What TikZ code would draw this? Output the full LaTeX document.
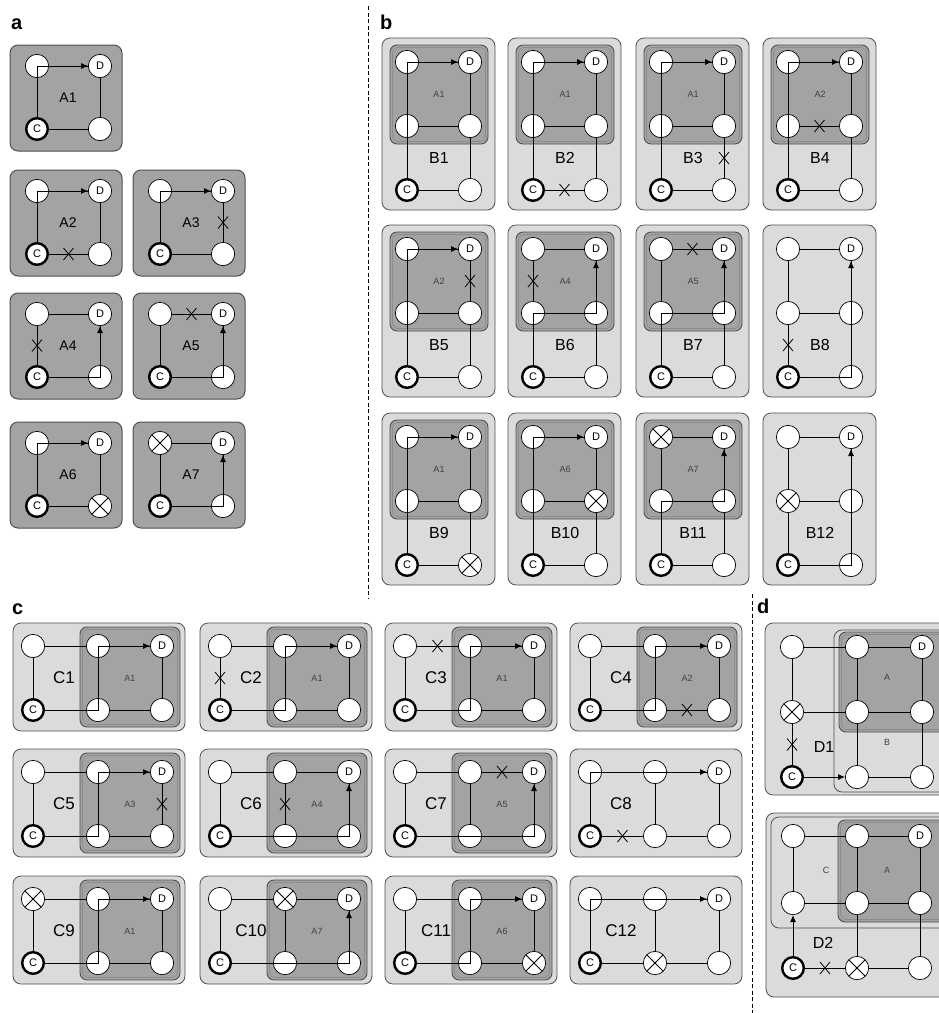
\documentclass[tikz,border=0pt]{standalone}
\usepackage{fontspec}
\setmainfont{Liberation Sans}
\setsansfont{Liberation Sans}
\usetikzlibrary{calc,arrows.meta}
\definecolor{dfill}{RGB}{163,163,163}
\definecolor{lfill}{RGB}{219,219,219}
\definecolor{bord}{RGB}{80,80,80}
\tikzset{
 nd/.style={circle, draw=black, fill=white, line width=0.7pt, minimum size=23.3pt, inner sep=0pt, font=\fontsize{11}{11}\selectfont},
 cnd/.style={nd, line width=2.4pt, minimum size=21.6pt},
 edg/.style={line width=0.8pt},
 pth/.style={line width=0.95pt, -{Latex[length=7pt,width=6pt]}},
 abox/.style={draw=bord, fill=dfill, rounded corners=8pt, line width=1pt},
 obox/.style={draw=bord, fill=lfill, rounded corners=8pt, line width=0.8pt},
 ibox/.style={draw=bord, fill=dfill, rounded corners=7pt, line width=0.9pt},
 iline/.style={draw=black!45, rounded corners=5pt, line width=0.6pt},
 alab/.style={font=\fontsize{14}{14}\selectfont, inner sep=0pt},
 blab/.style={font=\fontsize{16}{16}\selectfont, inner sep=0pt},
 clab/.style={font=\fontsize{17}{17}\selectfont, inner sep=0pt},
 slab/.style={font=\fontsize{9}{9}\selectfont, inner sep=0pt, text=black!75},
 plab/.style={font=\bfseries\fontsize{20}{20}\selectfont, inner sep=0pt, anchor=base west},
 sep/.style={line width=0.8pt, dash pattern=on 4pt off 2.5pt},
 xm/.pic={\draw[line width=0.8pt] (-5,-6) -- (5,6) (-5,6) -- (5,-6);},
 fx/.pic={\draw[line width=0.8pt] (-8.2,-8.2) -- (8.2,8.2) (-8.2,8.2) -- (8.2,-8.2);},
}
% panel a unit: prefix, x0, y0, label
\newcommand\aunit[4]{%
 \begin{scope}[shift={(#2,#3)}]
 \draw[abox] (0,0) rectangle (112,106);
 \node[alab] (#1-lab) at (58,53) {#4};
 \node[nd] (#1-tl) at (27,21) {};
 \node[nd] (#1-d) at (90,21) {D};
 \node[cnd] (#1-c) at (27,84) {C};
 \node[nd] (#1-br) at (90,84) {};
 \draw[edg] (#1-tl) -- (#1-d);
 \draw[edg] (#1-d) -- (#1-br);
 \draw[edg] (#1-c) -- (#1-br);
 \draw[edg] (#1-tl) -- (#1-c);
 \end{scope}}
% panel b unit: prefix, x0, y0, Blabel, Alabel (empty: no inner box)
\newcommand\bunit[5]{%
 \begin{scope}[shift={(#2,#3)}]
 \draw[obox] (0,0) rectangle (113,172);
 \if\relax\detokenize{#5}\relax\else
  \draw[ibox] (8,7) rectangle (106,106);
  \draw[iline] (10.5,9.5) rectangle (103.5,103.5);
  \node[slab] (#1-alab) at (57,56) {#5};
 \fi
 \node[blab] (#1-lab) at (57,120) {#4};
 \node[nd] (#1-tl) at (25,24) {};
 \node[nd] (#1-d) at (88,24) {D};
 \node[nd] (#1-ml) at (25,88) {};
 \node[nd] (#1-mr) at (88,88) {};
 \node[cnd] (#1-c) at (25,152) {C};
 \node[nd] (#1-br) at (88,152) {};
 \draw[edg] (#1-tl) -- (#1-d);
 \draw[edg] (#1-ml) -- (#1-mr);
 \draw[edg] (#1-c) -- (#1-br);
 \draw[edg] (#1-tl) -- (#1-ml);
 \draw[edg] (#1-ml) -- (#1-c);
 \draw[edg] (#1-d) -- (#1-mr);
 \draw[edg] (#1-mr) -- (#1-br);
 \end{scope}}
% panel c unit: prefix, x0, y0, Clabel, Alabel (empty: no inner box)
\newcommand\cunit[5]{%
 \begin{scope}[shift={(#2,#3)}]
 \draw[obox] (0,0) rectangle (172,108);
 \if\relax\detokenize{#5}\relax\else
  \draw[ibox] (67,4) rectangle (167,104);
  \draw[iline] (69.5,6.5) rectangle (164.5,101.5);
  \node[slab] (#1-alab) at (117,55) {#5};
 \fi
 \node[clab] (#1-lab) at (51,55) {#4};
 \node[nd] (#1-l0) at (20,23) {};
 \node[nd] (#1-m0) at (85,23) {};
 \node[nd] (#1-d) at (149,23) {D};
 \node[cnd] (#1-c) at (20,87) {C};
 \node[nd] (#1-m1) at (85,87) {};
 \node[nd] (#1-r1) at (149,87) {};
 \draw[edg] (#1-l0) -- (#1-m0);
 \draw[edg] (#1-m0) -- (#1-d);
 \draw[edg] (#1-c) -- (#1-m1);
 \draw[edg] (#1-m1) -- (#1-r1);
 \draw[edg] (#1-l0) -- (#1-c);
 \draw[edg] (#1-m0) -- (#1-m1);
 \draw[edg] (#1-d) -- (#1-r1);
 \end{scope}}

\begin{document}
\begin{tikzpicture}[x=1pt,y=-1pt]
\useasboundingbox (0,0) rectangle (939,1013);
\clip (0,0) rectangle (939,1013);
\fill[white] (0,0) rectangle (939,1013);

% panel labels
\node[plab] (la) at (11,29) {a};
\node[plab] (lb) at (380,29) {b};
\node[plab] (lc) at (12,614) {c};
\node[plab] (ld) at (757,613) {d};

% separators
\draw[sep] (368,6) -- (368,598);
\draw[sep] (752,594) -- (752,1013);

% ---------- panel a ----------
\aunit{a1}{10}{45}{A1}
\draw[pth] (a1-c) |- (a1-d);
\aunit{a2}{10}{170}{A2}
\draw[pth] (a2-c) |- (a2-d);
\pic at ($(a2-c)!.5!(a2-br)$) {xm};
\aunit{a3}{133}{170}{A3}
\draw[pth] (a3-c) |- (a3-d);
\pic at ($(a3-d)!.5!(a3-br)$) {xm};
\aunit{a4}{10}{293}{A4}
\draw[pth] (a4-c) -| (a4-d);
\pic at ($(a4-tl)!.5!(a4-c)$) {xm};
\aunit{a5}{133}{293}{A5}
\draw[pth] (a5-c) -| (a5-d);
\pic at ($(a5-tl)!.5!(a5-d)$) {xm};
\aunit{a6}{10}{422}{A6}
\draw[pth] (a6-c) |- (a6-d);
\pic at (a6-br) {fx};
\aunit{a7}{133}{422}{A7}
\draw[pth] (a7-c) -| (a7-d);
\pic at (a7-tl) {fx};

% ---------- panel b ----------
\bunit{b1}{382}{38}{B1}{A1}
\draw[pth] (b1-c) |- (b1-d);
\bunit{b2}{508}{38}{B2}{A1}
\draw[pth] (b2-c) |- (b2-d);
\pic at ($(b2-c)!.5!(b2-br)$) {xm};
\bunit{b3}{636}{38}{B3}{A1}
\draw[pth] (b3-c) |- (b3-d);
\pic at ($(b3-mr)!.5!(b3-br)$) {xm};
\bunit{b4}{763}{38}{B4}{A2}
\draw[pth] (b4-c) |- (b4-d);
\pic at ($(b4-ml)!.5!(b4-mr)$) {xm};

\bunit{b5}{382}{225}{B5}{A2}
\draw[pth] (b5-c) |- (b5-d);
\pic at ($(b5-d)!.5!(b5-mr)$) {xm};
\bunit{b6}{508}{225}{B6}{A4}
\draw[pth] (b6-c) -- (b6-ml.center) -- (b6-mr.center) -- (b6-d);
\pic at ($(b6-tl)!.5!(b6-ml)$) {xm};
\bunit{b7}{636}{225}{B7}{A5}
\draw[pth] (b7-c) -- (b7-ml.center) -- (b7-mr.center) -- (b7-d);
\pic at ($(b7-tl)!.5!(b7-d)$) {xm};
\bunit{b8}{763}{225}{B8}{}
\draw[pth] (b8-c) -| (b8-d);
\pic at ($(b8-ml)!.5!(b8-c)$) {xm};

\bunit{b9}{382}{413}{B9}{A1}
\draw[pth] (b9-c) |- (b9-d);
\pic at (b9-br) {fx};
\bunit{b10}{508}{413}{B10}{A6}
\draw[pth] (b10-c) |- (b10-d);
\pic at (b10-mr) {fx};
\bunit{b11}{636}{413}{B11}{A7}
\draw[pth] (b11-c) -- (b11-ml.center) -- (b11-mr.center) -- (b11-d);
\pic at (b11-tl) {fx};
\bunit{b12}{763}{413}{B12}{}
\draw[pth] (b12-c) -| (b12-d);
\pic at (b12-ml) {fx};

% ---------- panel c ----------
\cunit{c1}{13}{623}{C1}{A1}
\draw[pth] (c1-c) -- (c1-m1.center) -- (c1-m0.center) -- (c1-d);
\cunit{c2}{200}{623}{C2}{A1}
\draw[pth] (c2-c) -- (c2-m1.center) -- (c2-m0.center) -- (c2-d);
\pic at ($(c2-l0)!.5!(c2-c)$) {xm};
\cunit{c3}{385}{623}{C3}{A1}
\draw[pth] (c3-c) -- (c3-m1.center) -- (c3-m0.center) -- (c3-d);
\pic at ($(c3-l0)!.5!(c3-m0)$) {xm};
\cunit{c4}{570}{623}{C4}{A2}
\draw[pth] (c4-c) -- (c4-m1.center) -- (c4-m0.center) -- (c4-d);
\pic at ($(c4-m1)!.5!(c4-r1)$) {xm};

\cunit{c5}{13}{749}{C5}{A3}
\draw[pth] (c5-c) -- (c5-m1.center) -- (c5-m0.center) -- (c5-d);
\pic at ($(c5-d)!.5!(c5-r1)$) {xm};
\cunit{c6}{200}{749}{C6}{A4}
\draw[pth] (c6-c) -| (c6-d);
\pic at ($(c6-m0)!.5!(c6-m1)$) {xm};
\cunit{c7}{385}{749}{C7}{A5}
\draw[pth] (c7-c) -| (c7-d);
\pic at ($(c7-m0)!.5!(c7-d)$) {xm};
\cunit{c8}{570}{749}{C8}{}
\draw[pth] (c8-c) |- (c8-d);
\pic at ($(c8-c)!.5!(c8-m1)$) {xm};

\cunit{c9}{13}{876}{C9}{A1}
\draw[pth] (c9-c) -- (c9-m1.center) -- (c9-m0.center) -- (c9-d);
\pic at (c9-l0) {fx};
\cunit{c10}{200}{876}{C10}{A7}
\draw[pth] (c10-c) -| (c10-d);
\pic at (c10-m0) {fx};
\cunit{c11}{385}{876}{C11}{A6}
\draw[pth] (c11-c) -- (c11-m1.center) -- (c11-m0.center) -- (c11-d);
\pic at (c11-r1) {fx};
\cunit{c12}{570}{876}{C12}{}
\draw[pth] (c12-c) |- (c12-d);
\pic at (c12-m1) {fx};

% ---------- panel d ----------
% D1
\draw[obox] (765,623) rectangle (960,795);
\draw[obox] (834,630) rectangle (960,792);
\draw[ibox] (839,632) rectangle (960,732);
\draw[iline] (841.5,634.5) rectangle (960,729.5);
\node[slab] (d1-alab) at (887,677) {A};
\node[slab] (d1-blab) at (887,742) {B};
\node[blab] (d1-lab) at (824,747) {D1};
\node[nd] (d1-l0) at (792,647) {};
\node[nd] (d1-m0) at (857,647) {};
\node[nd] (d1-d) at (922,647) {D};
\node[nd] (d1-l1) at (792,712) {};
\node[nd] (d1-m1) at (857,712) {};
\node[nd] (d1-r1) at (922,712) {};
\node[cnd] (d1-c) at (792,777) {C};
\node[nd] (d1-m2) at (857,777) {};
\node[nd] (d1-r2) at (922,777) {};
\draw[edg] (d1-l0) -- (d1-m0);
\draw[edg] (d1-m0) -- (d1-d);
\draw[edg] (d1-l1) -- (d1-m1);
\draw[edg] (d1-m1) -- (d1-r1);
\draw[edg] (d1-m2) -- (d1-r2);
\draw[edg] (d1-l0) -- (d1-l1);
\draw[edg] (d1-l1) -- (d1-c);
\draw[edg] (d1-m0) -- (d1-m1);
\draw[edg] (d1-m1) -- (d1-m2);
\draw[edg] (d1-d) -- (d1-r1);
\draw[edg] (d1-r1) -- (d1-r2);
\draw[pth] (d1-c) -- (d1-m2);
\pic at (d1-l1) {fx};
\pic at ($(d1-l1)!.5!(d1-c)$) {xm};

% D2
\draw[obox] (766,813) rectangle (960,997);
\draw[obox] (771,817) rectangle (960,928);
\draw[ibox] (838,820) rectangle (960,922);
\draw[iline] (840.5,822.5) rectangle (960,919.5);
\node[slab] (d2-clab) at (826,870) {C};
\node[slab] (d2-alab) at (887,870) {A};
\node[blab] (d2-lab) at (823,943) {D2};
\node[nd] (d2-l0) at (793,836) {};
\node[nd] (d2-m0) at (857,836) {};
\node[nd] (d2-d) at (920,836) {D};
\node[nd] (d2-l1) at (793,903) {};
\node[nd] (d2-m1) at (857,903) {};
\node[nd] (d2-r1) at (920,903) {};
\node[cnd] (d2-c) at (793,968) {C};
\node[nd] (d2-m2) at (857,968) {};
\node[nd] (d2-r2) at (920,968) {};
\draw[edg] (d2-l0) -- (d2-m0);
\draw[edg] (d2-m0) -- (d2-d);
\draw[edg] (d2-l1) -- (d2-m1);
\draw[edg] (d2-m1) -- (d2-r1);
\draw[edg] (d2-c) -- (d2-m2);
\draw[edg] (d2-m2) -- (d2-r2);
\draw[edg] (d2-l0) -- (d2-l1);
\draw[edg] (d2-m0) -- (d2-m1);
\draw[edg] (d2-m1) -- (d2-m2);
\draw[edg] (d2-d) -- (d2-r1);
\draw[edg] (d2-r1) -- (d2-r2);
\draw[pth] (d2-c) -- (d2-l1);
\pic at (d2-m2) {fx};
\pic at ($(d2-c)!.5!(d2-m2)$) {xm};
\end{tikzpicture}
\end{document}
